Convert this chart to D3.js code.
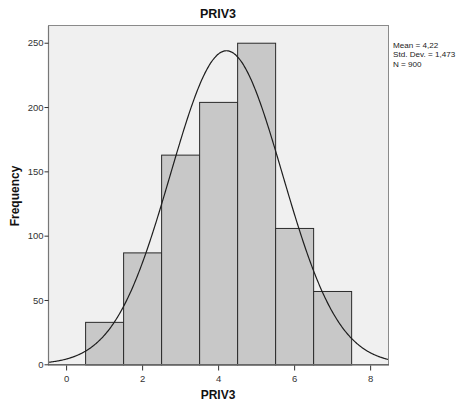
<!DOCTYPE html>
<html>
<head>
<meta charset="utf-8">
<script src="https://cdn.jsdelivr.net/npm/d3@7/dist/d3.min.js"></script>
<style>
  html, body { margin: 0; padding: 0; background: #ffffff; }
  svg { display: block; font-family: Arial, "Liberation Sans", sans-serif; }
</style>
</head>
<body>
<svg id="chart" width="463" height="405"></svg>
<script>
// Histogram of PRIV3 with fitted normal curve
const binCenters = [1, 2, 3, 4, 5, 6, 7];
const frequencies = [33, 87, 163, 204, 250, 106, 57];
const xTicks = [0, 2, 4, 6, 8];
const yTicks = [0, 50, 100, 150, 200, 250];
const statsLines = ["Mean = 4,22", "Std. Dev. = 1,473", "N = 900"];
const meanValue = 4.22;
const sdValue = 1.473;
const nValue = 900;
const binWidth = 1;

const svg = d3.select("#chart");
const plot = { left: 49, right: 388, top: 26, bottom: 365 };

const x = d3.scaleLinear().domain([-0.45, 8.47]).range([plot.left, plot.right]);
const y = d3.scaleLinear().domain([0, 263]).range([364.3, 26]);

// plot background
svg.append("rect")
  .attr("x", plot.left).attr("y", plot.top)
  .attr("width", plot.right - plot.left).attr("height", plot.bottom - plot.top)
  .attr("fill", "#f0f0f0");

svg.append("clipPath").attr("id", "plotclip")
  .append("rect")
  .attr("x", plot.left).attr("y", plot.top)
  .attr("width", plot.right - plot.left).attr("height", plot.bottom - plot.top);

// bars
svg.append("g").selectAll("rect")
  .data(binCenters)
  .join("rect")
  .attr("x", (d) => x(d - binWidth / 2) + 0.5)
  .attr("y", (d, i) => y(frequencies[i]) + 0.5)
  .attr("width", (d) => x(d + binWidth / 2) - x(d - binWidth / 2))
  .attr("height", (d, i) => y(0) - y(frequencies[i]))
  .attr("fill", "#c8c8c8")
  .attr("stroke", "#2a2a2a")
  .attr("stroke-width", 1);

// normal curve scaled to counts
const pdf = (v) => nValue * binWidth / (sdValue * Math.sqrt(2 * Math.PI)) *
  Math.exp(-0.5 * Math.pow((v - meanValue) / sdValue, 2));
const curveXs = d3.range(-0.45, 8.48, 0.02);
svg.append("path")
  .datum(curveXs)
  .attr("clip-path", "url(#plotclip)")
  .attr("fill", "none")
  .attr("stroke", "#1e1e1e")
  .attr("stroke-width", 1.2)
  .attr("d", d3.line().x((v) => x(v)).y((v) => y(pdf(v))).curve(d3.curveBasis));

// frame
svg.append("rect")
  .attr("x", plot.left - 0.5).attr("y", plot.top - 0.5)
  .attr("width", plot.right - plot.left + 1).attr("height", plot.bottom - plot.top)
  .attr("fill", "none")
  .attr("stroke", "#8a8a8a")
  .attr("stroke-width", 1);
svg.append("line")
  .attr("x1", plot.left - 1).attr("x2", plot.right + 1)
  .attr("y1", 365).attr("y2", 365)
  .attr("stroke", "#444").attr("stroke-width", 1.2);
svg.append("line")
  .attr("x1", plot.left - 0.5).attr("x2", plot.left - 0.5)
  .attr("y1", plot.top).attr("y2", 365)
  .attr("stroke", "#777").attr("stroke-width", 1.2);

// axes
const xAxis = svg.append("g")
  .attr("transform", `translate(0,365.5)`)
  .call(d3.axisBottom(x).tickValues(xTicks).tickFormat(d3.format("d")).tickSize(5).tickSizeOuter(0));
xAxis.select(".domain").remove();
xAxis.selectAll("line").attr("stroke", "#333");
xAxis.selectAll("text").attr("font-size", 9.5).attr("fill", "#333").attr("dy", "0.9em");

const yAxis = svg.append("g")
  .attr("transform", `translate(${plot.left - 0.5},0)`)
  .call(d3.axisLeft(y).tickValues(yTicks).tickFormat(d3.format("d")).tickSize(4).tickSizeOuter(0));
yAxis.select(".domain").remove();
yAxis.selectAll("line").attr("stroke", "#333");
yAxis.selectAll("text").attr("font-size", 9.5).attr("fill", "#333").attr("x", -5);

// titles
svg.append("text")
  .attr("x", 218).attr("y", 18)
  .attr("text-anchor", "middle")
  .attr("font-size", 12.5).attr("font-weight", "bold").attr("fill", "#111")
  .text("PRIV3");
svg.append("text")
  .attr("x", 218).attr("y", 399)
  .attr("text-anchor", "middle")
  .attr("font-size", 12).attr("font-weight", "bold").attr("fill", "#111")
  .text("PRIV3");
svg.append("text")
  .attr("transform", "translate(19,196) rotate(-90)")
  .attr("text-anchor", "middle")
  .attr("font-size", 12).attr("font-weight", "bold").attr("fill", "#111")
  .text("Frequency");

// summary statistics
svg.append("g").selectAll("text")
  .data(statsLines)
  .join("text")
  .attr("x", 393)
  .attr("y", (d, i) => 48 + i * 9.4)
  .attr("font-size", 8.1).attr("fill", "#222")
  .text((d) => d);
</script>
</body>
</html>
